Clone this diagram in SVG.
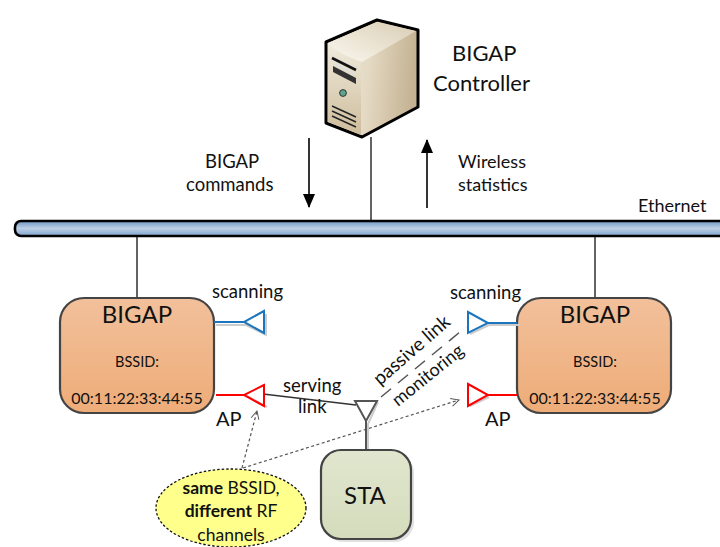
<svg xmlns="http://www.w3.org/2000/svg" width="720" height="547" viewBox="0 0 720 547">
<defs>
<linearGradient id="bus" x1="0" y1="0" x2="0" y2="1"><stop offset="0" stop-color="#6f98c8"/><stop offset="0.5" stop-color="#bccfe4"/><stop offset="1" stop-color="#7da3cf"/></linearGradient>
<linearGradient id="orange" x1="0" y1="0" x2="0" y2="1"><stop offset="0" stop-color="#f2c09b"/><stop offset="1" stop-color="#eeac78"/></linearGradient>
<linearGradient id="green" x1="0" y1="0" x2="0" y2="1"><stop offset="0" stop-color="#e1e6ce"/><stop offset="1" stop-color="#d4dcbc"/></linearGradient>
<linearGradient id="side" x1="0" y1="0" x2="1" y2="0.1"><stop offset="0" stop-color="#f1ebde"/><stop offset="0.5" stop-color="#e4d9c3"/><stop offset="1" stop-color="#c4b292"/></linearGradient>
<linearGradient id="front" x1="0" y1="0" x2="0" y2="1"><stop offset="0" stop-color="#f0ebdd"/><stop offset="1" stop-color="#cdbc9b"/></linearGradient>
<linearGradient id="top" x1="0" y1="1" x2="1" y2="0"><stop offset="0" stop-color="#fbf8f0"/><stop offset="1" stop-color="#d9cdb4"/></linearGradient>
<marker id="open" markerWidth="12" markerHeight="12" refX="9" refY="5" orient="auto" markerUnits="userSpaceOnUse"><path d="M1 1 L9 5 L1 9" fill="none" stroke="#555" stroke-width="1"/></marker>
<marker id="solid" markerWidth="16" markerHeight="16" refX="13" refY="6" orient="auto" markerUnits="userSpaceOnUse"><path d="M0 0 L14 6 L0 12 Z" fill="#000"/></marker>
</defs>
<style>
text{font-family:"Lato","Carlito","Open Sans",sans-serif;fill:#111}
.wire{stroke:#222;stroke-width:1.4;fill:none}
.dot{stroke:#555;stroke-width:1.2;stroke-dasharray:3 2.5;fill:none}
.box{stroke:#444;stroke-width:2.2}
.shadow{fill:none;stroke:#ccc;stroke-width:2}
.ant{fill:none;stroke-width:2}
</style>

<g id="connectors">
<path class="wire" d="M371 137V220"/>
<path class="wire" d="M137 236V298"/>
<path class="wire" d="M595 236V298"/>
<path d="M309 138V207" stroke="#000" stroke-width="1.6" fill="none" marker-end="url(#solid)"/>
<path d="M427 208V140" stroke="#000" stroke-width="1.6" fill="none" marker-end="url(#solid)"/>
<path d="M263 394L356 405" stroke="#333" stroke-width="1.6" fill="none"/>
<path d="M381 397L466 327" stroke="#555" stroke-width="1.5" stroke-dasharray="13 9" fill="none"/>
<path class="dot" d="M242 468L257 411" marker-end="url(#open)"/>
<path class="dot" d="M243 468L459 400" marker-end="url(#open)"/>
</g>

<g id="bus">
<rect x="15" y="221" width="720" height="15" rx="6" fill="url(#bus)" stroke="#000" stroke-width="2.6"/>
<text x="638" y="212" font-size="18">Ethernet</text>
</g>

<g id="server">
<path d="M326 42L377 20L418 30V107L362 137L326 123Z" fill="url(#side)" stroke="#000" stroke-width="3" stroke-linejoin="round"/>
<path d="M328 43L377 22L416 31L362 62C350 58 336 52 328 43Z" fill="url(#top)"/>
<path d="M328 44C336 52 350 58 361 62V135L328 122Z" fill="url(#front)"/>
<path d="M332 58L356 70" stroke="#111" stroke-width="2.6"/>
<path d="M333 66L356 78V84L333 72Z" fill="#333"/>
<path d="M335 64L354 74" stroke="#ddd" stroke-width="2"/>
<circle cx="343" cy="93" r="3.4" fill="#5fa58e" stroke="#333"/>
<path d="M332 106L356 117M332 111L356 122M332 116L356 127" stroke="#222" stroke-width="1.4"/>
<text x="452" y="61" font-size="22">BIGAP</text>
<text x="433" y="91" font-size="22">Controller</text>
</g>

<g id="label-commands">
<text x="205" y="168" font-size="18.5">BIGAP</text>
<text x="186" y="191" font-size="18.5">commands</text>
</g>
<g id="label-statistics">
<text x="458" y="168" font-size="18">Wireless</text>
<text x="458" y="191" font-size="18">statistics</text>
</g>

<g id="bigap-left">
<rect x="60" y="298" width="154" height="115" rx="24" fill="url(#orange)" class="box"/>
<text x="137" y="323" font-size="24" text-anchor="middle">BIGAP</text>
<text x="137" y="367" font-size="14.5" text-anchor="middle">BSSID:</text>
<text x="137" y="404" font-size="16" text-anchor="middle">00:11:22:33:44:55</text>
</g>
<g id="bigap-right">
<rect x="517" y="298" width="154" height="115" rx="24" fill="url(#orange)" class="box"/>
<text x="595" y="323" font-size="24" text-anchor="middle">BIGAP</text>
<text x="595" y="367" font-size="14.5" text-anchor="middle">BSSID:</text>
<text x="595" y="404" font-size="16" text-anchor="middle">00:11:22:33:44:55</text>
</g>

<g id="antenna-scan-left">
<path class="shadow" d="M216 325H246L266 335V314"/>
<path class="ant" stroke="#1c75bc" d="M214 322H244M264 311L244 322L264 333Z"/>
<text x="212" y="298" font-size="18.5">scanning</text>
</g>
<g id="antenna-ap-left">
<path class="shadow" d="M247 396L267 407"/>
<path class="ant" stroke="#f00" d="M216 395H244M264 385L244 395L264 406Z"/>
<text x="216" y="426" font-size="20">AP</text>
</g>
<g id="antenna-scan-right">
<path class="shadow" d="M470 334L489 325H520"/>
<path class="ant" stroke="#1c75bc" d="M517 323H488M468 312L488 323L468 333Z"/>
<text x="450" y="299" font-size="18.5">scanning</text>
</g>
<g id="antenna-ap-right">
<path class="shadow" d="M470 406L489 397"/>
<path class="ant" stroke="#f00" d="M517 395H488M468 384L488 395L468 406Z"/>
<text x="485" y="426" font-size="20">AP</text>
</g>

<g id="sta">
<path class="shadow" d="M378 402L368 424V452"/>
<path d="M355 401H377L366 421Z M366 421V450" fill="none" stroke="#555" stroke-width="2"/>
<rect x="321" y="450" width="90" height="89" rx="20" fill="#aaa" opacity="0.35" transform="translate(3 3)"/>
<rect x="321" y="450" width="90" height="89" rx="20" fill="url(#green)" class="box"/>
<text x="365" y="504" font-size="24" text-anchor="middle">STA</text>
</g>

<g id="link-labels">
<text x="283" y="392" font-size="18.5">serving</text>
<text x="298" y="413" font-size="18.5">link</text>
<text font-size="19" transform="translate(380 386) rotate(-41)">passive link</text>
<text font-size="18" transform="translate(398 407) rotate(-39)">monitoring</text>
</g>

<g id="note">
<ellipse cx="231" cy="508" rx="75" ry="39" fill="#ffff8c" stroke="#111" stroke-width="1.3" stroke-dasharray="2.5 2"/>
<text x="231" y="494" font-size="17.5" text-anchor="middle"><tspan font-weight="700">same</tspan> BSSID,</text>
<text x="231" y="517" font-size="17.5" text-anchor="middle"><tspan font-weight="700">different</tspan> RF</text>
<text x="231" y="541" font-size="17.5" text-anchor="middle">channels</text>
</g>
</svg>
